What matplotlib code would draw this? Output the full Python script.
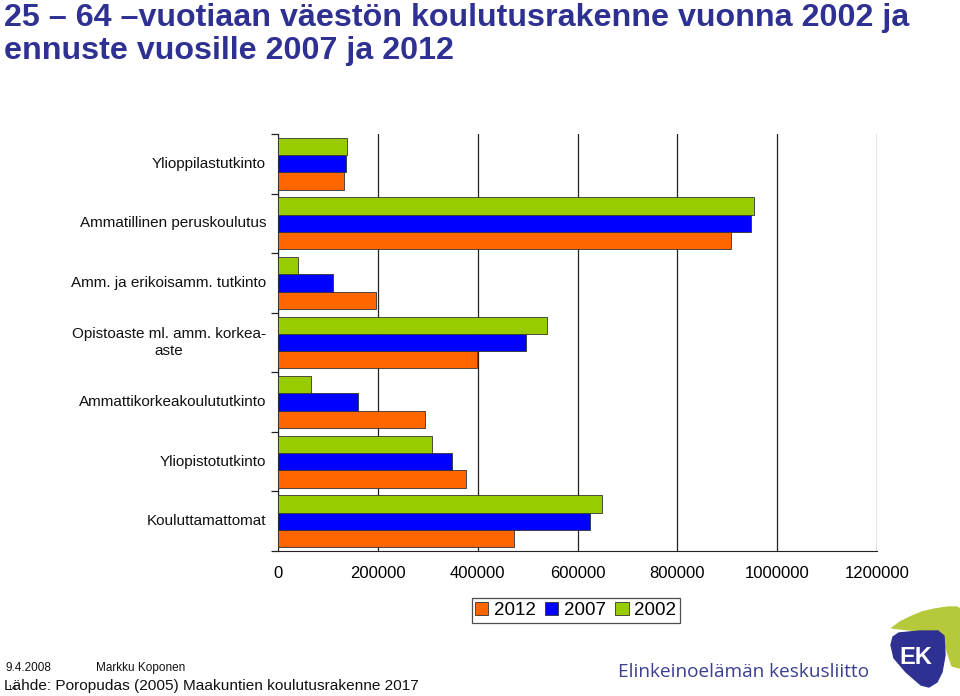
import matplotlib.pyplot as plt
import numpy as np
from matplotlib.patches import Polygon

plt.rcParams['font.family'] = ['Liberation Sans', 'DejaVu Sans']

# categories top -> bottom
categories = ["Ylioppilastutkinto",
              "Ammatillinen peruskoulutus",
              "Amm. ja erikoisamm. tutkinto",
              "Opistoaste ml. amm. korkea-\naste",
              "Ammattikorkeakoulututkinto",
              "Yliopistotutkinto",
              "Kouluttamattomat"]
v2002 = [139000, 954000, 40000, 538000, 66000, 308000, 650000]
v2007 = [137000, 947000, 110000, 496000, 160000, 348000, 626000]
v2012 = [132000, 907000, 196000, 398000, 294000, 376000, 472000]
xticks = [0, 200000, 400000, 600000, 800000, 1000000, 1200000]

col2012 = '#FF6600'
col2007 = '#0000FF'
col2002 = '#99CC00'
navy = '#2E3192'

fig = plt.figure(figsize=(9.6, 6.96), dpi=100)
ax = fig.add_axes([278/960, 1-551/696, (877-278)/960, (551-134)/696])

n = len(categories)
pos = np.arange(n)[::-1]  # top category at highest y
h = 0.29
ax.barh(pos - h, v2012, height=h, color=col2012, edgecolor='#333333', linewidth=0.6, label='2012', zorder=3)
ax.barh(pos, v2007, height=h, color=col2007, edgecolor='#333333', linewidth=0.6, label='2007', zorder=3)
ax.barh(pos + h, v2002, height=h, color=col2002, edgecolor='#333333', linewidth=0.6, label='2002', zorder=3)

ax.set_xlim(0, 1200000)
ax.set_ylim(-0.5, n - 0.5)
ax.set_xticks(xticks)
ax.set_xticklabels([str(t) for t in xticks], fontsize=12)
ax.tick_params(axis='x', length=0, pad=11)
ax.xaxis.grid(True, color='#222222', linewidth=0.9, zorder=0)

# category labels, ticks at category boundaries
ax.set_yticks(np.arange(n + 1) - 0.5)
ax.set_yticklabels([])
ax.tick_params(axis='y', length=5, width=0.9, color='#222222')
for p, c in zip(pos, categories):
    ax.text(-24000, p, c, ha='right', va='center', fontsize=11, color='#111111',
            multialignment='center' if '\n' in c else 'left')

for s in ['top', 'right']:
    ax.spines[s].set_visible(False)
ax.spines['left'].set_color('#222222')
ax.spines['bottom'].set_color('#222222')

handles, labels = ax.get_legend_handles_labels()
leg = ax.legend(handles, labels, loc='upper center', bbox_to_anchor=(0.497, -0.091), ncol=3,
                fontsize=13.5, frameon=True, fancybox=False, edgecolor='#222222',
                handlelength=0.7, handleheight=0.7, handletextpad=0.3, columnspacing=0.5,
                borderpad=0.2)
leg.get_frame().set_linewidth(0.9)

# title
fig.text(4/960, 1-3/696, "25 – 64 –vuotiaan väestön koulutusrakenne vuonna 2002 ja\nennuste vuosille 2007 ja 2012",
         ha='left', va='top', fontsize=23.2, fontweight='bold', color=navy, linespacing=1.13)

# footer
fig.text(6/960, 1-668/696, "9.4.2008", fontsize=8.5, va='center', color='#111111')
fig.text(96/960, 1-668/696, "Markku Koponen", fontsize=8.5, va='center', color='#111111')
fig.text(7/960, 1-689/696, "14", fontsize=6, va='center', color='#111111')
fig.text(4/960, 1-686/696, "Lähde: Poropudas (2005) Maakuntien koulutusrakenne 2017",
         fontsize=11.1, va='center', color='#111111')
fig.text(618/960, 1-672/696, "Elinkeinoelämän keskusliitto", fontsize=13.7, va='center',
         color='#3B3F8F', family=['Open Sans', 'DejaVu Sans'])

# EK logo (pixel-like coords, y downwards)
lax = fig.add_axes([860/960, 0, 100/960, 96/696])
lax.set_xlim(0, 100)
lax.set_ylim(96, 0)
lax.axis('off')
lax.add_patch(Polygon([[32, 28], [40, 22], [50, 17], [62, 12], [75, 9], [88, 7], [97, 7],
                       [100, 9], [100, 68], [92, 66], [85, 45], [70, 33], [50, 30]],
                      closed=True, color='#B5C93A', joinstyle='round'))
lax.add_patch(Polygon([[31, 45], [33, 37], [39, 33], [60, 31], [78, 31], [84, 36], [85, 55],
                       [82, 72], [77, 82], [69, 87], [61, 85], [46, 72], [34, 58]],
                      closed=True, color='#2E3192', joinstyle='round'))
lax.text(56, 57, "EK", color='white', fontsize=17, fontweight='bold', ha='center', va='center')

fig.savefig('out.png', dpi=100)
